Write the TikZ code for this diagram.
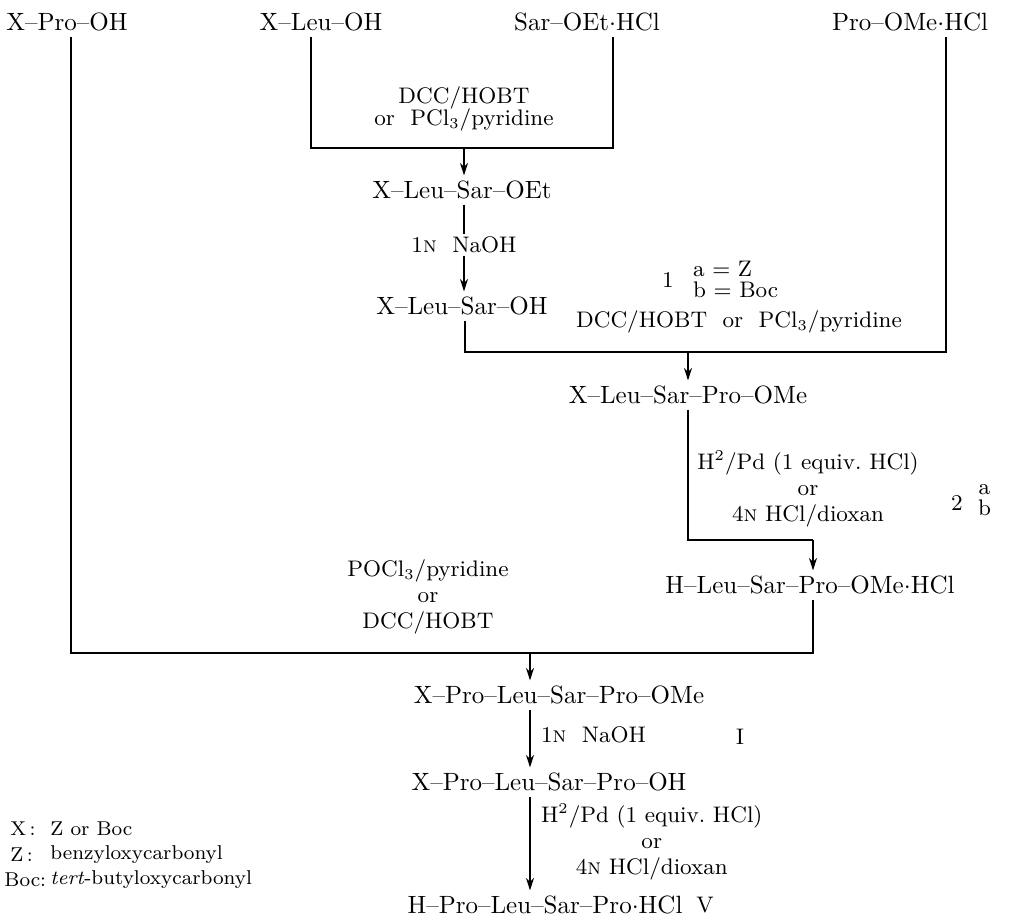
\documentclass[tikz,border=0pt]{standalone}
\usetikzlibrary{arrows.meta}
\tikzset{
  syn/cmpd/.style={inner sep=2pt, font=\fontsize{10}{12}\selectfont},
  syn/reag/.style={inner sep=1pt, align=center, font=\fontsize{9}{10.4}\selectfont},
  syn/key/.style={anchor=west, inner sep=0pt, font=\fontsize{8}{10}\selectfont},
  syn/line/.style={line width=0.5pt},
  syn/arrow/.style={-{Stealth[length=5pt,width=3.2pt]}, line width=0.5pt}
}

\begin{document}
\begin{tikzpicture}[x=0.4pt,y=-0.4pt]
  \useasboundingbox (0,0) rectangle (1013,919);
  % starting materials
  \node[syn/cmpd] (xpro) at (67,22) {X--Pro--OH};
  \node[syn/cmpd] (xleu) at (321,22) {X--Leu--OH};
  \node[syn/cmpd] (sar) at (587,22) {Sar--OEt$\cdot$HCl};
  \node[syn/cmpd] (prome) at (910,22) {Pro--OMe$\cdot$HCl};
  % first coupling
  \node[syn/reag] (rcpl1) at (464,109) {DCC/HOBT\\[-1.6pt]or\ \ PCl\textsubscript{3}/pyridine};
  \coordinate (j1l) at (311,148);
  \coordinate (j1r) at (613,148);
  \coordinate (j1) at (464,148);
  \draw[syn/line] (xleu.south -| j1l) |- (j1r) -- (sar.south -| j1r);
  \node[syn/cmpd] (lsoet) at (462,190) {X--Leu--Sar--OEt};
  \draw[syn/arrow] (j1) -- (lsoet.north -| j1);
  \node[syn/reag] (naoh1) at (464,245) {1\textsc{n}\ \ NaOH};
  \draw[syn/line] (lsoet.south -| naoh1) -- (naoh1.north);
  \node[syn/cmpd] (lsoh) at (462,306) {X--Leu--Sar--OH};
  \draw[syn/arrow] (naoh1.south) -- (lsoh.north -| naoh1);
  % second coupling
  \node[syn/reag] (lbl1) at (668,280) {1};
  \node[syn/reag,anchor=west,align=left] (lbl1ab) at (690,279) {a $=$ Z\\[-2pt]b $=$ Boc};
  \node[syn/reag] (rcpl2) at (739,322) {DCC/HOBT\ \ or\ \ PCl\textsubscript{3}/pyridine};
  \coordinate (j2l) at (465,352);
  \coordinate (j2r) at (946,352);
  \coordinate (j2) at (688,352);
  \draw[syn/line] (lsoh.south -| j2l) |- (j2r) -- (prome.south -| j2r);
  \node[syn/cmpd] (lspome) at (688,395) {X--Leu--Sar--Pro--OMe};
  \draw[syn/arrow] (j2) -- (lspome.north -| j2);
  % deprotection
  \node[syn/reag] (rdep1) at (808,489) {H\textsuperscript{2}/Pd (1 equiv.\ HCl)\\or\\4\textsc{n} HCl/dioxan};
  \node[syn/reag] (lbl2) at (957,503) {2};
  \node[syn/reag,anchor=west] (lbl2ab) at (975,500) {a\\[-2pt]b};
  \coordinate (j3l) at (688,540);
  \coordinate (j3) at (813,540);
  \draw[syn/line] (lspome.south -| j3l) |- (j3);
  \node[syn/cmpd] (hlspome) at (810,585) {H--Leu--Sar--Pro--OMe$\cdot$HCl};
  \draw[syn/arrow] (j3) -- (hlspome.north -| j3);
  % third coupling
  \node[syn/reag] (rcpl3) at (428,597) {POCl\textsubscript{3}/pyridine\\or\\DCC/HOBT};
  \coordinate (j4l) at (71,653);
  \coordinate (j4r) at (813,653);
  \coordinate (j4) at (530,653);
  \draw[syn/line] (xpro.south -| j4l) |- (j4r) -- (hlspome.south -| j4r);
  \node[syn/cmpd] (plspome) at (559,695) {X--Pro--Leu--Sar--Pro--OMe};
  \draw[syn/arrow] (j4) -- (plspome.north -| j4);
  % saponification and final deprotection
  \node[syn/reag,anchor=west] (naoh2) at (538,735) {1\textsc{n}\ \ NaOH};
  \node[syn/reag] (lblI) at (740,737) {I};
  \node[syn/cmpd] (plspoh) at (549,782) {X--Pro--Leu--Sar--Pro--OH};
  \draw[syn/arrow] (plspome.south -| j4) -- (plspoh.north -| j4);
  \node[syn/reag,anchor=west] (rdep2) at (538,842) {H\textsuperscript{2}/Pd (1 equiv.\ HCl)\\or\\4\textsc{n} HCl/dioxan};
  \node[syn/cmpd] (hplsp) at (545,905) {H--Pro--Leu--Sar--Pro$\cdot$HCl};
  \node[syn/reag] (lblV) at (705,905) {V};
  \draw[syn/arrow] (plspoh.south -| j4) -- (hplsp.north -| j4);
  % legend
  \node[syn/key] (kx) at (10,829) {X\,:};
  \node[syn/key] (vx) at (50,829) {Z or Boc};
  \node[syn/key] (kz) at (10,855) {Z\,:};
  \node[syn/key] (vz) at (50,855) {benzyloxycarbonyl};
  \node[syn/key] (kboc) at (4,880) {Boc:};
  \node[syn/key] (vboc) at (50,880) {\textit{tert}-butyloxycarbonyl};
\end{tikzpicture}
\end{document}
